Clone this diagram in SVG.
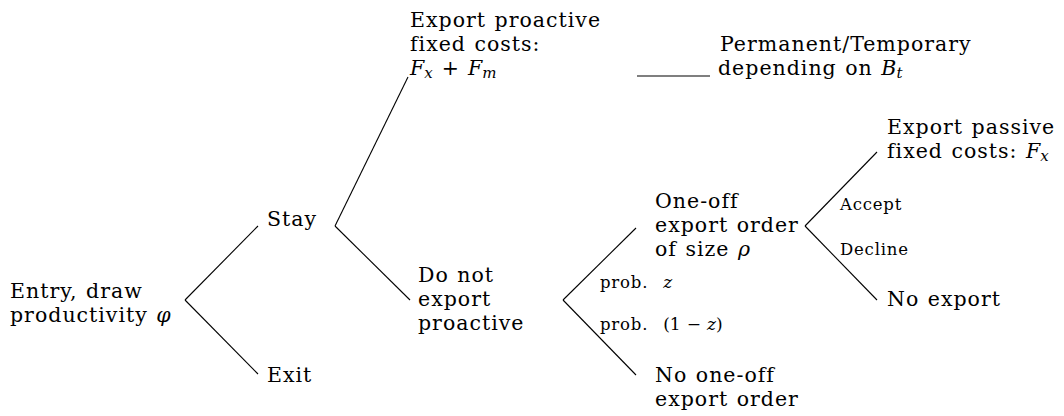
<svg xmlns="http://www.w3.org/2000/svg" width="1064" height="416" viewBox="0 0 1064 416">
<style>
text { font-family: "DejaVu Serif", "Liberation Serif", serif; font-size: 20.5px; fill: #000; letter-spacing: 1px; word-spacing: 1px; }
.s { font-size: 16.5px; letter-spacing: 0.8px; word-spacing: 1px; }
.m { font-style: italic; letter-spacing: 0; }
.ms { font-style: italic; letter-spacing: 0; font-size: 17px; }
.r { letter-spacing: 0; }
.sub { font-size: 15px; font-style: italic; letter-spacing: 0; }
.edges line { stroke: #000; stroke-width: 1.1; fill: none; }
</style>
<rect width="1064" height="416" fill="#fff"/>
<g id="connectors" class="edges">
<line x1="185" y1="300" x2="258" y2="226"/>
<line x1="185" y1="300" x2="258" y2="374"/>
<line x1="335" y1="226" x2="408" y2="77"/>
<line x1="335" y1="226" x2="410" y2="300"/>
<line x1="637" y1="76" x2="710" y2="76"/>
<line x1="563" y1="300" x2="636" y2="228"/>
<line x1="563" y1="300" x2="636" y2="375"/>
<line x1="805" y1="226" x2="877" y2="152"/>
<line x1="805" y1="226" x2="877" y2="300"/>
</g>
<g id="n-root"><text x="10" y="298">Entry, draw<tspan x="10" y="322">productivity </tspan><tspan class="m">φ</tspan></text></g>
<g id="n-stay"><text x="267" y="226">Stay</text></g>
<g id="n-exit"><text x="267" y="382">Exit</text></g>
<g id="n-export-proactive"><text x="410" y="27">Export proactive<tspan x="410" y="51">fixed costs:</tspan><tspan class="m" x="410" y="75">F</tspan><tspan class="sub" dy="3">x</tspan><tspan class="r" dx="9" dy="-3">+</tspan><tspan class="m" dx="9">F</tspan><tspan class="sub" dy="3">m</tspan></text></g>
<g id="n-permanent"><text x="720" y="51">Permanent/Temporary<tspan x="718" y="75">depending on </tspan><tspan class="m">B</tspan><tspan class="sub" dy="3">t</tspan></text></g>
<g id="n-do-not"><text x="418" y="282">Do not<tspan x="418" y="306">export</tspan><tspan x="418" y="330">proactive</tspan></text></g>
<g id="l-prob-z"><text class="s" x="600" y="288">prob.<tspan class="ms" dx="15">z</tspan></text></g>
<g id="l-prob-1z"><text class="s" x="600" y="330">prob.<tspan class="r" dx="15" style="font-size:17px">(1</tspan><tspan class="r" dx="6" style="font-size:17px">−</tspan><tspan class="ms" dx="6">z</tspan><tspan class="r" style="font-size:17px">)</tspan></text></g>
<g id="n-one-off"><text x="655" y="208">One-off<tspan x="655" y="232">export order</tspan><tspan x="655" y="256">of size </tspan><tspan class="m">ρ</tspan></text></g>
<g id="n-no-one-off"><text x="655" y="382">No one-off<tspan x="655" y="406">export order</tspan></text></g>
<g id="l-accept"><text class="s" x="840" y="210">Accept</text></g>
<g id="l-decline"><text class="s" x="840" y="255">Decline</text></g>
<g id="n-export-passive"><text x="887" y="134">Export passive<tspan x="887" y="158">fixed costs: </tspan><tspan class="m">F</tspan><tspan class="sub" dy="3">x</tspan></text></g>
<g id="n-no-export"><text x="887" y="306">No export</text></g>
</svg>
